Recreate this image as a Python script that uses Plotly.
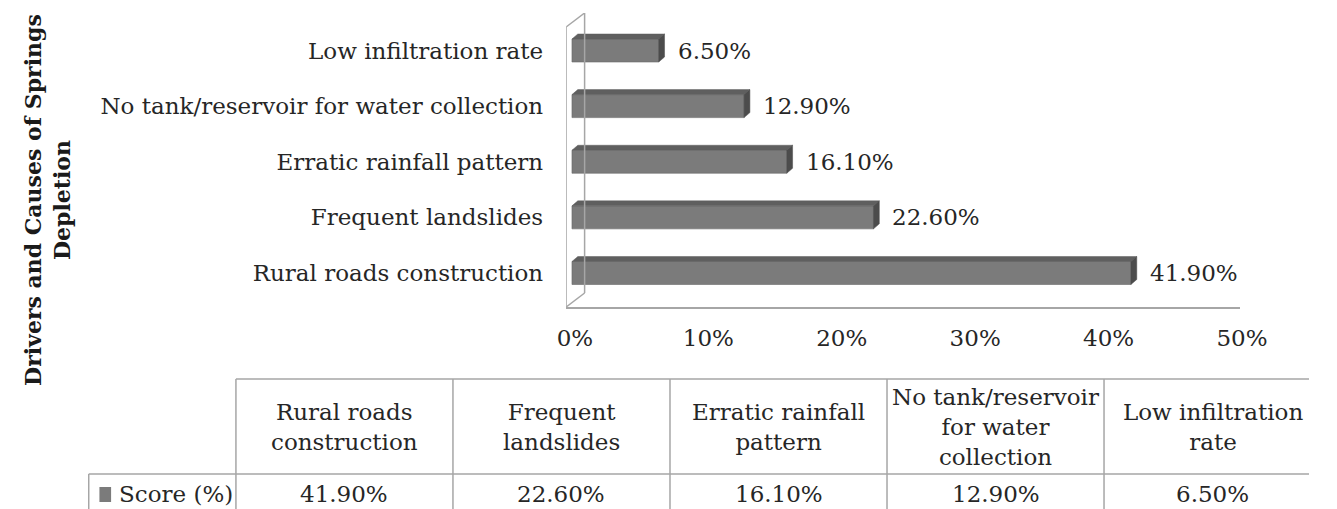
import plotly.graph_objects as go

# ---------------- data ----------------
categories = [
    "Rural roads construction",
    "Frequent landslides",
    "Erratic rainfall pattern",
    "No tank/reservoir for water collection",
    "Low infiltration rate",
]
scores = [41.9, 22.6, 16.1, 12.9, 6.5]
table_headers = [
    "Rural roads<br>construction",
    "Frequent<br>landslides",
    "Erratic rainfall<br>pattern",
    "No tank/reservoir<br>for water<br>collection",
    "Low infiltration<br>rate",
]
x_ticks = [0, 10, 20, 30, 40, 50]
series_name = "Score (%)"
axis_title = "Drivers and Causes of Springs<br>Depletion"

# ---------------- styling / layout constants ----------------
W, H = 1337, 509
FONT = "DejaVu Serif"
TXT = "#262626"
GRID = "#a6a6a6"
BAR_FRONT = "#7b7b7b"
BAR_TOP = "#5f5f5f"
BAR_SIDE = "#4c4c4c"
FS = 23

px_per_pct = 13.72
x0_px = 579          # pixel of 0 %
x_left_px, x_right_px = 573, 1266
xr = [(x_left_px - x0_px) / px_per_pct, (x_right_px - x0_px) / px_per_pct]

px_per_cat = 55.625
cat0_px = 273        # pixel centre of first category
y_bot_px, y_top_px = 307, 13
yr = [-(y_bot_px - cat0_px) / px_per_cat, (cat0_px - y_top_px) / px_per_cat]

bar_w = 23 / px_per_cat
dx = 6 / px_per_pct
dy = 5 / px_per_cat


def py(p):
    return 1 - p / H


def pxx(p):
    return p / W


fig = go.Figure()
fig.add_trace(go.Bar(
    x=scores, y=categories, orientation="h", width=bar_w,
    marker=dict(color=BAR_FRONT, line=dict(color="#6a6a6a", width=0.6)),
    name=series_name, showlegend=False, hoverinfo="x+y",
))

shapes = []
annotations = []

# 3-D faces of the bars
for i, v in enumerate(scores):
    h = bar_w / 2
    shapes.append(dict(type="path", xref="x", yref="y",
                       path=f"M 0,{i+h} L {dx},{i+h+dy} L {v+dx},{i+h+dy} L {v},{i+h} Z",
                       fillcolor=BAR_TOP, line=dict(color=BAR_TOP, width=0.5)))
    shapes.append(dict(type="path", xref="x", yref="y",
                       path=f"M {v},{i-h} L {v+dx},{i-h+dy} L {v+dx},{i+h+dy} L {v},{i+h} Z",
                       fillcolor=BAR_SIDE, line=dict(color=BAR_SIDE, width=0.5)))
    annotations.append(dict(x=v, y=categories[i], xref="x", yref="y", text=f"{v:.2f}%",
                            showarrow=False, xanchor="left", xshift=17,
                            font=dict(family=FONT, size=FS, color=TXT)))

# side wall of the 3-D plot area
xb = (592 - x0_px) / px_per_pct
yft = (cat0_px - 27) / px_per_cat
ybb = -(293 - cat0_px) / px_per_cat
wall = dict(color=GRID, width=1.5)
shapes += [
    dict(type="line", xref="x", yref="y", x0=xr[0], x1=xr[0], y0=yr[0], y1=yft, line=wall),
    dict(type="line", xref="x", yref="y", x0=xb, x1=xb, y0=ybb, y1=yr[1], line=wall),
    dict(type="line", xref="x", yref="y", x0=xr[0], x1=xb, y0=yft, y1=yr[1], line=wall),
    dict(type="line", xref="x", yref="y", x0=xr[0], x1=xb, y0=yr[0], y1=ybb, line=wall),
]

# ---------------- data table below ----------------
col_w = 223.2
col0_c = 345
x2r = [-col0_c / col_w, (W - col0_c) / col_w]
tbl_top, tbl_sep = 379, 474
tline = dict(color=GRID, width=1.5)
for j in range(len(table_headers) + 1):
    shapes.append(dict(type="line", xref="x2", yref="paper", x0=j - 0.5, x1=j - 0.5,
                       y0=py(tbl_top), y1=0, line=tline))
shapes.append(dict(type="line", xref="x2", yref="paper", x0=-0.5, x1=len(table_headers) - 0.5,
                   y0=py(tbl_top), y1=py(tbl_top), line=tline))
shapes.append(dict(type="line", xref="paper", yref="paper", x0=pxx(82), x1=1,
                   y0=py(tbl_sep), y1=py(tbl_sep), line=tline))
shapes.append(dict(type="line", xref="paper", yref="paper", x0=pxx(82), x1=pxx(82),
                   y0=py(tbl_sep), y1=0, line=tline))
# legend key square
shapes.append(dict(type="rect", xref="paper", yref="paper", x0=pxx(93), x1=pxx(105),
                   y0=py(502), y1=py(487), fillcolor=BAR_FRONT, line=dict(width=0)))
annotations.append(dict(x=pxx(111), y=py(494), xref="paper", yref="paper", text=series_name,
                        showarrow=False, xanchor="left", yanchor="middle",
                        font=dict(family=FONT, size=FS, color=TXT)))

for j, (hdr, v) in enumerate(zip(table_headers, scores)):
    annotations.append(dict(x=j, y=py((tbl_top + tbl_sep) / 2), xref="x2", yref="paper",
                            text=hdr, showarrow=False, xanchor="center", yanchor="middle",
                            font=dict(family=FONT, size=FS, color=TXT)))
    annotations.append(dict(x=j, y=py(494), xref="x2", yref="paper",
                            text=f"{v:.2f}%", showarrow=False, xanchor="center", yanchor="middle",
                            font=dict(family=FONT, size=FS, color=TXT)))

# vertical axis title
annotations.append(dict(x=pxx(39), y=py(200), xref="paper", yref="paper",
                        text=f"<b>{axis_title}</b>", textangle=-90, showarrow=False,
                        xanchor="center", yanchor="middle",
                        font=dict(family=FONT, size=22, color="#1a1a1a")))

fig.update_layout(
    width=W, height=H,
    margin=dict(l=0, r=0, t=0, b=0),
    paper_bgcolor="white", plot_bgcolor="rgba(0,0,0,0)",
    font=dict(family=FONT, size=FS, color=TXT),
    xaxis=dict(domain=[pxx(x_left_px), pxx(x_right_px)], range=xr,
               tickvals=x_ticks, ticktext=[f"{t}%" for t in x_ticks],
               showgrid=False, zeroline=False, showline=True, linecolor=GRID, linewidth=1.5,
               ticks="", ticklabelstandoff=10, ticklabelshift=3,
               tickfont=dict(family=FONT, size=FS, color=TXT), fixedrange=True),
    yaxis=dict(domain=[py(y_bot_px), py(y_top_px)], range=yr,
               type="category", categoryorder="array", categoryarray=categories,
               showgrid=False, zeroline=False, showline=False, ticks="",
               ticklabelstandoff=22,
               tickfont=dict(family=FONT, size=FS, color=TXT), fixedrange=True),
    xaxis2=dict(domain=[0, 1], range=x2r, visible=False, anchor="y2", fixedrange=True),
    yaxis2=dict(domain=[0, 1], range=[0, 1], visible=False, anchor="x2", fixedrange=True),
    shapes=shapes,
    annotations=annotations,
    bargap=0.5,
)
fig.add_trace(go.Scatter(x=[0], y=[0], xaxis="x2", yaxis="y2", mode="markers",
                         marker=dict(opacity=0), showlegend=False, hoverinfo="skip"))

fig.write_html(
    "out.html",
    config={"displayModeBar": False},
    post_script="document.body.style.margin='0';document.body.style.overflow='hidden';",
)
